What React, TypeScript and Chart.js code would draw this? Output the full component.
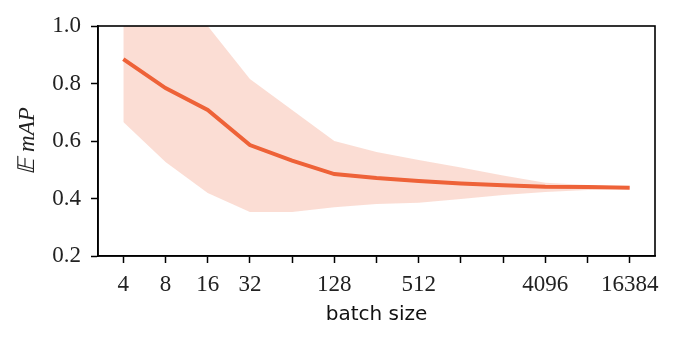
import React, { useEffect, useRef } from "react";
import { Chart, registerables } from "chart.js";

Chart.register(...registerables);

const batchSizes = [4, 8, 16, 32, 64, 128, 256, 512, 1024, 2048, 4096, 8192, 16384];
const meanMAP = [0.885, 0.784, 0.708, 0.586, 0.532, 0.485, 0.471, 0.461, 0.452, 0.446, 0.441, 0.44, 0.437];
const upperMAP = [1.12, 1.06, 1.0, 0.816, 0.708, 0.6, 0.562, 0.534, 0.508, 0.48, 0.455, 0.447, 0.44];
const lowerMAP = [0.666, 0.527, 0.419, 0.353, 0.353, 0.37, 0.381, 0.385, 0.398, 0.412, 0.423, 0.43, 0.435];
const labeledTicks = [4, 8, 16, 32, 128, 512, 4096, 16384];
const yTicks = [0.2, 0.4, 0.6, 0.8, 1.0];

const LINE = "rgb(238,98,56)";
const FILL = "rgba(244,150,122,0.32)";
const SERIF = "'Liberation Serif', 'DejaVu Serif', serif";

const frame = {
  id: "frame",
  afterDraw(chart: any) {
    const { ctx, chartArea: a } = chart;
    ctx.save();
    ctx.strokeStyle = "#000";
    ctx.lineWidth = 1.6;
    ctx.strokeRect(a.left, a.top, a.right - a.left, a.bottom - a.top);
    ctx.restore();
  },
};

export default function App() {
  const ref = useRef<HTMLCanvasElement>(null);
  useEffect(() => {
    document.body.style.margin = "0";
    const pts = (arr: number[]) => batchSizes.map((x, i) => ({ x, y: arr[i] }));
    const chart = new Chart(ref.current!, {
      type: "line",
      data: {
        datasets: [
          {
            data: pts(meanMAP),
            borderColor: LINE,
            borderWidth: 4,
            pointRadius: 0,
            fill: false,
            order: 0,
          },
          {
            data: pts(upperMAP),
            borderWidth: 0,
            borderColor: "rgba(0,0,0,0)",
            backgroundColor: FILL,
            pointRadius: 0,
            fill: "+1",
            order: 1,
          },
          {
            data: pts(lowerMAP),
            borderWidth: 0,
            borderColor: "rgba(0,0,0,0)",
            pointRadius: 0,
            fill: false,
            order: 2,
          },
        ],
      },
      options: {
        responsive: false,
        animation: false,
        layout: { padding: { left: 0, right: 23, top: 26, bottom: 0 } },
        plugins: { legend: { display: false }, tooltip: { enabled: false } },
        scales: {
          x: {
            type: "logarithmic",
            min: Math.pow(2, 1.4),
            max: Math.pow(2, 14.6),
            afterBuildTicks: (s: any) => {
              s.ticks = batchSizes.map((v) => ({ value: v }));
            },
            afterFit: (s: any) => {
              s.height = 89;
            },
            ticks: {
              autoSkip: false,
              maxRotation: 0,
              padding: 8,
              color: "#222",
              font: { family: SERIF, size: 23 },
              callback: (v: any) => (labeledTicks.includes(Number(v)) ? String(v) : ""),
            },
            grid: {
              drawOnChartArea: false,
              drawTicks: true,
              tickLength: 7,
              tickWidth: 1.5,
              tickColor: "#000",
            },
            border: { color: "#000", width: 1.6 },
            title: {
              display: true,
              text: "batch size",
              color: "#111",
              font: { family: "'DejaVu Sans', sans-serif", size: 20 },
              padding: { top: 2, bottom: 18 },
            },
          },
          y: {
            min: 0.2,
            max: 1.0,
            afterBuildTicks: (s: any) => {
              s.ticks = yTicks.map((v) => ({ value: v }));
            },
            afterFit: (s: any) => {
              s.width = 98;
            },
            ticks: {
              padding: 10,
              color: "#222",
              font: { family: SERIF, size: 23 },
              callback: (v: any) => Number(v).toFixed(1),
            },
            grid: {
              drawOnChartArea: false,
              drawTicks: true,
              tickLength: 7,
              tickWidth: 1.5,
              tickColor: "#000",
            },
            border: { color: "#000", width: 1.6 },
            title: {
              display: true,
              text: "𝔼 mAP",
              color: "#222",
              font: { family: SERIF, size: 23, style: "italic" },
              padding: { top: 14, bottom: 8 },
            },
          },
        },
      },
      plugins: [frame],
    });
    return () => chart.destroy();
  }, []);
  return <canvas ref={ref} width={678} height={345} style={{ display: "block" }} />;
}
